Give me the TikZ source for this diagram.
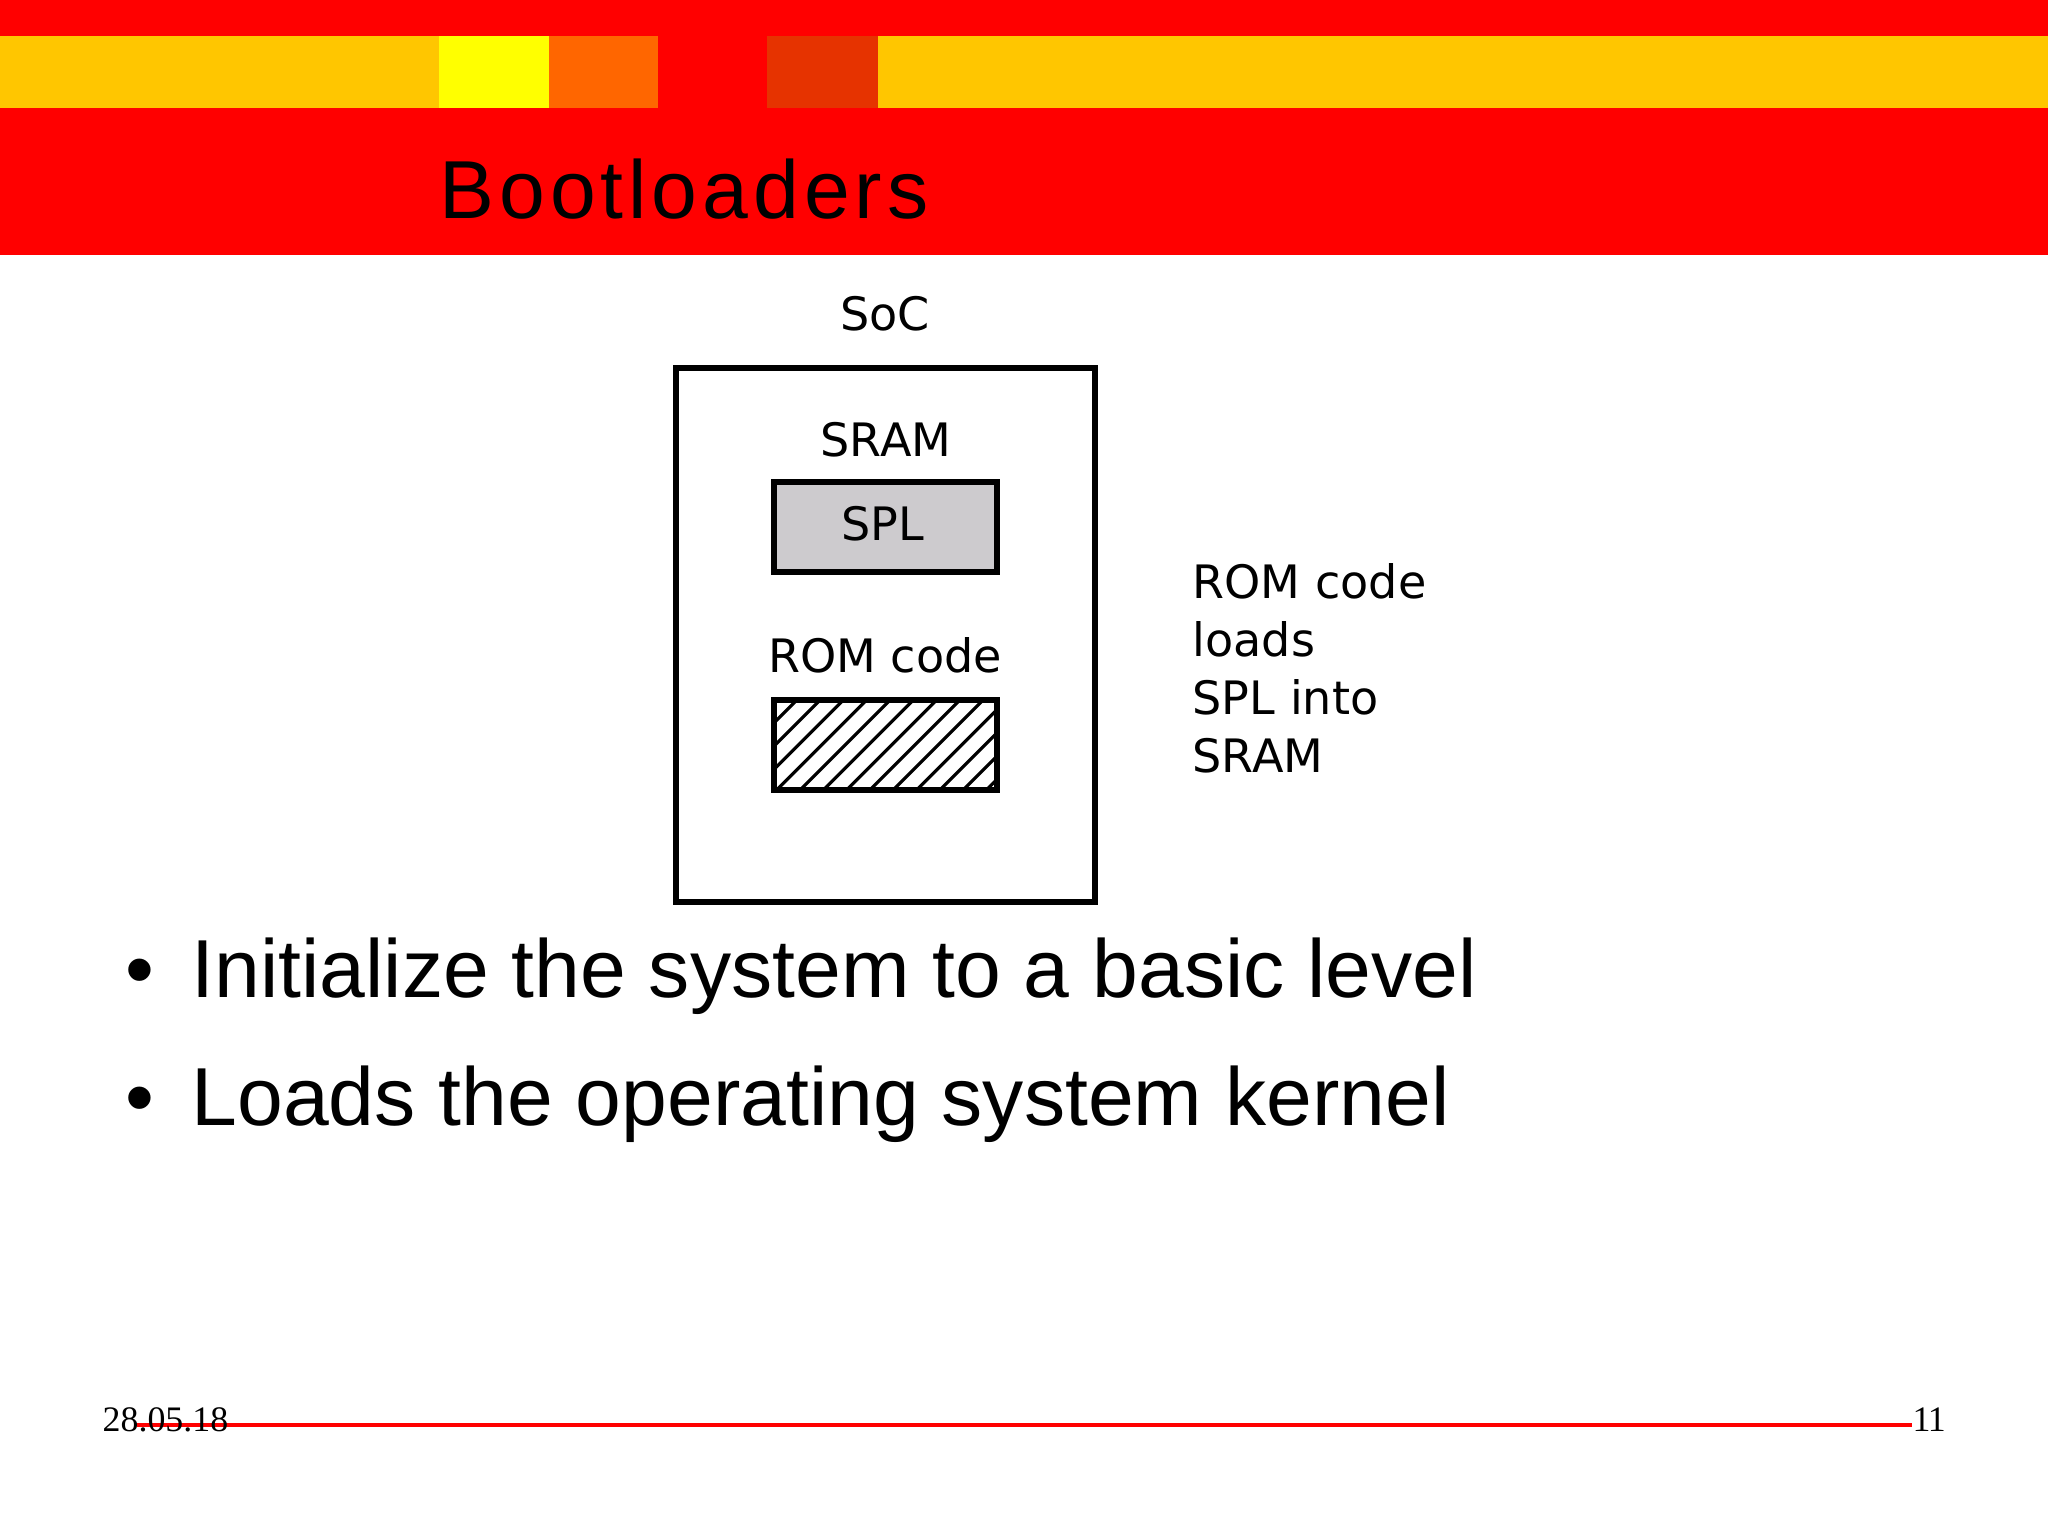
\documentclass[tikz,border=0pt]{standalone}
\usepackage{fontspec}
\setmainfont{Liberation Sans}
\newfontfamily\titlefont[LetterSpace=6]{Liberation Sans}
\newfontfamily\socfont{DejaVu Sans}
\newfontfamily\datefont{Liberation Serif}
\definecolor{bandamber}{HTML}{FFC600}
\definecolor{bandyellow}{HTML}{FFFF00}
\definecolor{bandorange}{HTML}{FF6600}
\definecolor{banddark}{HTML}{E63300}
\definecolor{splgrey}{HTML}{CDCBCE}
\tikzset{
  blockbox/.style={draw=black,line width=1.5pt},
  soclabel/.style={inner sep=0pt,anchor=base,font=\socfont\fontsize{13.1}{16.5}\selectfont},
  bodyline/.style={inner sep=0pt,anchor=base west,font=\fontsize{23.4}{28}\selectfont},
  footlabel/.style={inner sep=0pt,anchor=base west,font=\datefont\fontsize{10.2}{12}\selectfont}
}
\begin{document}
\begin{tikzpicture}[x=0.01cm,y=-0.01cm]
\useasboundingbox (0,0) rectangle (2048,1536);
\fill[white] (0,0) rectangle (2048,1536);
\fill[red] (0,0) rectangle (2048,255); % header
\fill[bandamber] (0,36) rectangle (2048,108);
\fill[bandyellow] (439,36) rectangle (549,108);
\fill[bandorange] (549,36) rectangle (658,108);
\fill[red] (658,36) rectangle (767,108);
\fill[banddark] (767,36) rectangle (878,108);
\node[inner sep=0pt,anchor=base west,font=\titlefont\fontsize{23.4}{28}\selectfont] (title) at (439,218) {Bootloaders};
\draw[blockbox] (676,368) rectangle (1095,902); % SoC
\node[soclabel] (soc) at (885,330) {SoC};
\node[soclabel] (sram) at (886,456) {SRAM};
\filldraw[blockbox,fill=splgrey] (774,482) rectangle (997,572);
\node[soclabel] (spl) at (883,540) {SPL};
\node[soclabel] (rom) at (885,672) {ROM code};
\begin{scope}
\clip (774,700) rectangle (997,790);
\foreach \k in {-3,...,9}
  \draw[line width=0.9pt] ({776.7+23.3*\k},790) -- ({866.7+23.3*\k},700);
\end{scope}
\draw[blockbox] (774,700) rectangle (997,790); % ROM
\node[inner sep=0pt,anchor=north west,align=left,font=\socfont\fontsize{13.1}{16.5}\selectfont] (note) at (1192,563) {ROM code\\loads\\SPL into\\SRAM};
\node[bodyline] (bulletone) at (125,997) {\textbullet};
\node[bodyline] (lineone) at (191,997) {Initialize the system to a basic level};
\node[bodyline] (bullettwo) at (125,1125) {\textbullet};
\node[bodyline] (linetwo) at (191,1125) {Loads the operating system kernel};
\draw[red,line width=0.9pt] (137,1425) -- (1912,1425); % footer
\node[footlabel] (date) at (102,1431) {28.05.18};
\node[footlabel] (page) at (1912,1431) {1\kern-0.8pt 1};
\end{tikzpicture}
\end{document}
